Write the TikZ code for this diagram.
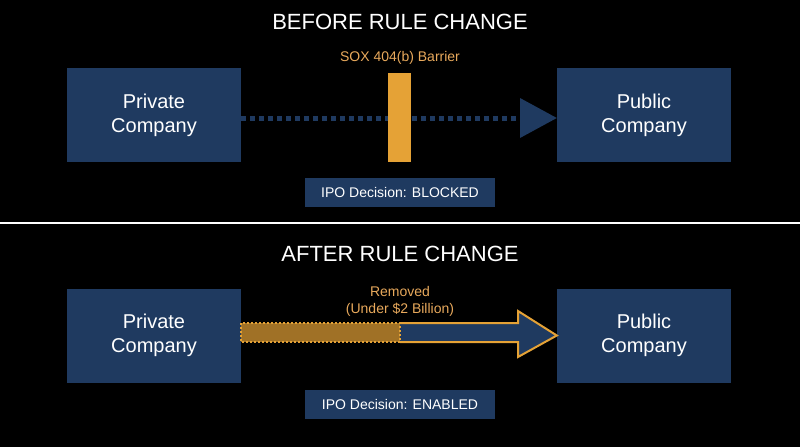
\documentclass[tikz,border=0pt]{standalone}
\usepackage{fontspec}
\setmainfont{Liberation Sans}
\usetikzlibrary{positioning}
\definecolor{navy}{HTML}{1F3A60}
\definecolor{gold}{HTML}{E5A236}
\definecolor{goldtext}{HTML}{E8A95C}
\begin{document}
\begin{tikzpicture}[x=1pt,y=-1pt,
  box/.style={fill=navy,minimum width=174pt,minimum height=94pt,align=center,text=white,font=\fontsize{20}{24}\selectfont},
  title/.style={text=white,font=\fontsize{22}{26}\selectfont},
  decision/.style={fill=navy,minimum width=190pt,minimum height=29pt,text=white,font=\fontsize{14}{16}\selectfont},
  note/.style={text=goldtext,align=center,font=\fontsize{14}{17}\selectfont}]
\fill[black] (0,0) rectangle (800,447);
\useasboundingbox (0,0) rectangle (800,447);
% before
\node[title] (T1) at (400,22) {BEFORE RULE CHANGE};
\node[box] (A) at (154,115) {Private\\Company};
\node[box] (B) at (644,115) {Public\\Company};
\coordinate (tip1) at (520,118);
\draw[navy,line width=5pt,dash pattern=on 5pt off 4pt] (A.east |- tip1) -- (tip1);
\fill[navy] (520,98) -- (B.west |- tip1) -- (520,138) -- cycle;
\node[fill=gold,minimum width=23pt,minimum height=89pt,inner sep=0pt] (bar) at (399.5,117.5) {};
\node[note] (L1) at (400,58) {SOX 404(b) Barrier};
\node[decision] (D1) at (400,192.5) {IPO Decision: BLOCKED};
\draw[white,line width=1.5pt] (0,223) -- (800,223);
% after
\node[title] (T2) at (400,254) {AFTER RULE CHANGE};
\node[box] (C) at (154,335.5) {Private\\Company};
\node[box] (E) at (644,335.5) {Public\\Company};
\draw[gold,line width=2pt,fill=navy,line join=miter]
  (400,323) -- (518,323) -- (518,311) -- (E.west) -- (518,357) -- (518,342) -- (400,342);
\draw[gold,fill=gold!70!black,line width=2pt,dash pattern=on 2pt off 2pt] (C.east |- 0,323) rectangle (400,342);
\node[note] (L2) at (400,301) {Removed\\(Under \$2 Billion)};
\node[decision] (D2) at (400,404.5) {IPO Decision: ENABLED};
\end{tikzpicture}
\end{document}
